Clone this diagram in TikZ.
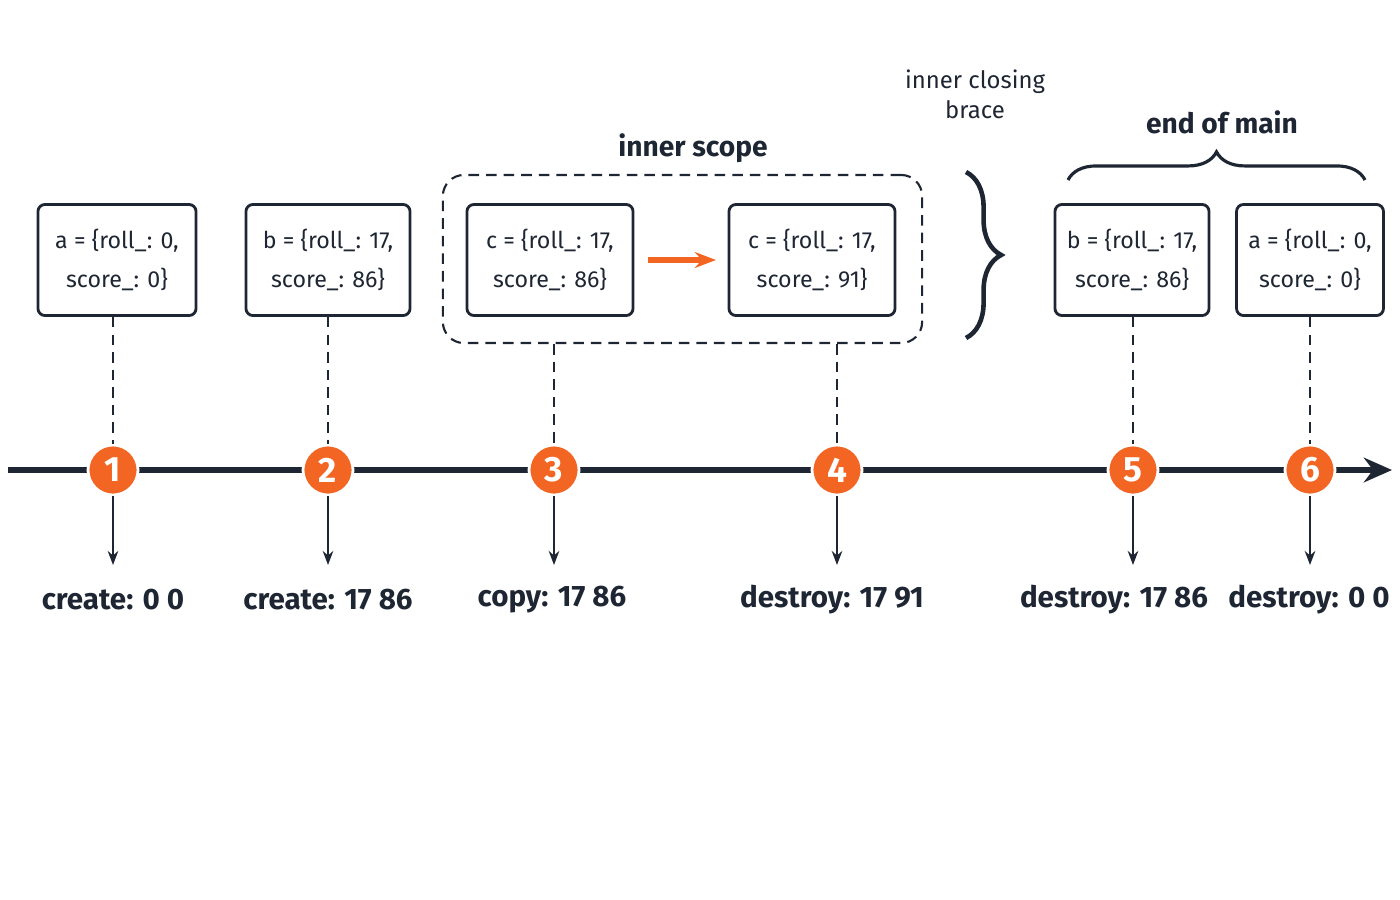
\documentclass[tikz,border=0pt]{standalone}
\usepackage{fontspec}
\setmainfont{Fira Sans}
\usetikzlibrary{arrows.meta,decorations.pathreplacing}
\definecolor{ink}{HTML}{1E2633}
\definecolor{accent}{HTML}{F26522}
\tikzset{
 objbox/.style={draw=ink,line width=0.8pt,rounded corners=2pt,minimum height=1.11cm,align=center,font=\fontsize{6.6}{11}\selectfont,text=ink},
 stepdot/.style={circle,fill=accent,draw=white,line width=0.8pt,minimum size=0.5cm,inner sep=0pt,text=white,font=\fontsize{10}{10}\selectfont\bfseries},
 outlabel/.style={font=\fontsize{8.4}{10}\selectfont\bfseries,text=ink},
 guide/.style={densely dashed,draw=ink,line width=0.5pt},
 drop/.style={draw=ink,line width=0.6pt,-{Stealth[length=4pt]}}
}
\begin{document}
\begin{tikzpicture}[x=0.01cm,y=-0.01cm]
 \useasboundingbox (0,0) rectangle (1400,900);
 % scope frame
 \node (scope) [draw=ink,densely dashed,line width=0.6pt,rounded corners=6pt,minimum width=4.79cm,minimum height=1.68cm] at (682.5,259) {};
 \node (scopelbl) at (693,148) [font=\fontsize{8}{10}\selectfont\bfseries,text=ink] {inner scope};
 % objects
 \node (obj a1) at (117,260) [objbox,minimum width=1.58cm] {a = \{roll\_: 0,\\score\_: 0\}};
 \node (obj b1) at (328,260) [objbox,minimum width=1.64cm] {b = \{roll\_: 17,\\score\_: 86\}};
 \node (obj c1) at (550,260) [objbox,minimum width=1.66cm] {c = \{roll\_: 17,\\score\_: 86\}};
 \node (obj c2) at (812,260) [objbox,minimum width=1.66cm] {c = \{roll\_: 17,\\score\_: 91\}};
 \node (obj b2) at (1132,260) [objbox,minimum width=1.54cm] {b = \{roll\_: 17,\\score\_: 86\}};
 \node (obj a2) at (1310,260) [objbox,minimum width=1.39cm] {a = \{roll\_: 0,\\score\_: 0\}};
 \coordinate (cp from) at (648,260);
 \coordinate (cp to) at (716,260);
 \draw[accent,line width=1.5pt,-{Stealth[length=6pt]}] (cp from) -- (cp to);
 % braces
 \coordinate (brtop) at (966,172);
 \coordinate (brbot) at (966,338);
 \draw[ink,line width=1.3pt,decorate,decoration={brace,amplitude=10pt}] (brtop) -- (brbot);
 \node (bracelbl) at (975,94) [align=center,font=\fontsize{6.8}{8.5}\selectfont,text=ink] {inner closing\\brace};
 \coordinate (mainl) at (1068,180);
 \coordinate (mainr) at (1365,180);
 \draw[ink,line width=0.9pt,decorate,decoration={brace,amplitude=8pt}] (mainl) -- (mainr);
 \node (mainlbl) at (1222,122) [font=\fontsize{8}{10}\selectfont\bfseries,text=ink] {end of main};
 % timeline
 \coordinate (tl start) at (8,470);
 \coordinate (tl end) at (1392,470);
 \draw[ink,line width=1.5pt,-{Stealth[length=8pt,width=7pt]}] (tl start) -- (tl end);
 \foreach \i/\x/\src/\txt/\lx in {1/113/obj a1/create: 0 0/113, 2/328/obj b1/create: 17 86/328, 5/1133/obj b2/destroy: 17 86/1114, 6/1310/obj a2/destroy: 0 0/1309}{
  \node (step \i) at (\x,470) [stepdot] {\i};
  \draw[guide] (\src.south -| step \i) -- (step \i);
  \coordinate (tip \i) at (\x,565);
  \draw[drop] (step \i) -- (tip \i);
  \node (out \i) at (\lx,600) [outlabel] {\txt};
 }
 \foreach \i/\x/\txt/\lx in {3/554/copy: 17 86/552, 4/837/destroy: 17 91/832}{
  \node (step \i) at (\x,470) [stepdot] {\i};
  \draw[guide] (scope.south -| step \i) -- (step \i);
  \coordinate (tip \i) at (\x,565);
  \draw[drop] (step \i) -- (tip \i);
  \node (out \i) at (\lx,600) [outlabel] {\txt};
 }
\end{tikzpicture}
\end{document}
